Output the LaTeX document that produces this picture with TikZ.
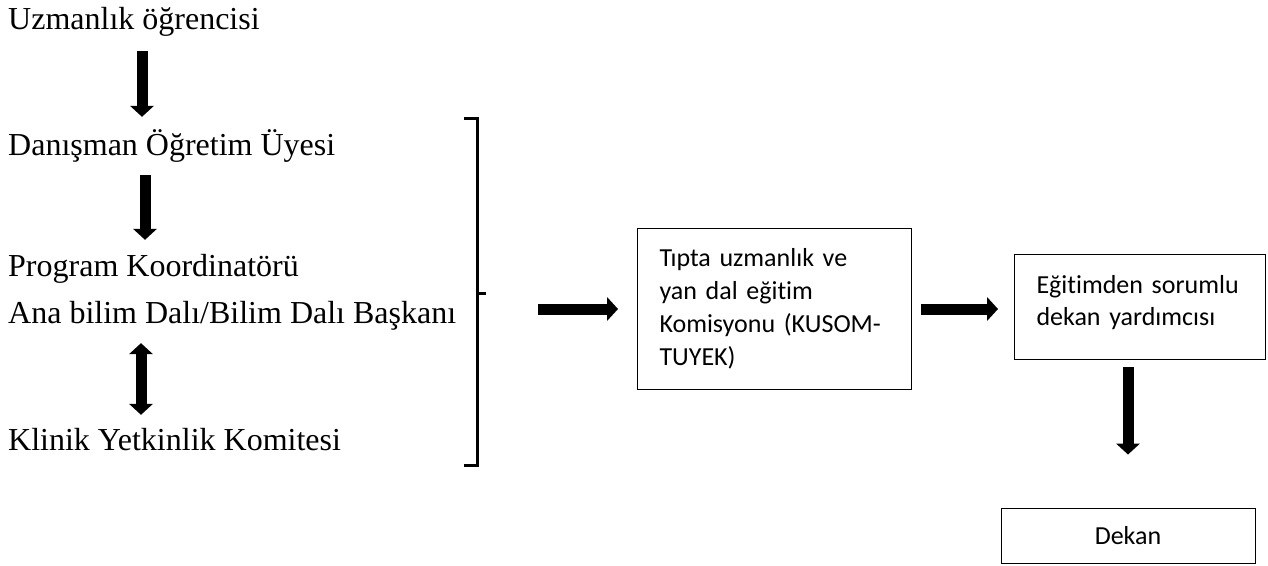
\documentclass[tikz,border=0pt]{standalone}
\usepackage{fontspec}
\setmainfont{Liberation Serif}
\newfontfamily\boxfont[Ligatures=NoCommon]{Carlito}
\usetikzlibrary{arrows.meta}

\tikzset{
    lefttext/.style={anchor=base west,inner sep=0pt,text height=22pt,text depth=7pt,font=\fontsize{32}{38}\selectfont},
    box/.style={draw,line width=1pt,anchor=north west,inner xsep=22pt,inner ysep=0pt,align=left,font=\boxfont\fontsize{26}{33}\selectfont},
    blockarrow/.style={line width=11pt,-{Triangle[width=24pt,length=11pt,line width=0pt]}},
    blockboth/.style={line width=11pt,{Triangle[width=24pt,length=11pt,line width=0pt]}-{Triangle[width=24pt,length=11pt,line width=0pt]}}
}

\begin{document}
\begin{tikzpicture}[x=1pt,y=-1pt]
    \useasboundingbox (0,0) rectangle (1268,565);
    \node[lefttext] (uzman) at (8,29) {Uzmanlık öğrencisi};
    \node[lefttext] (danisman) at (8,155) {Danışman Öğretim Üyesi};
    \node[lefttext] (koord) at (8,276) {Program Koordinatörü};
    \node[lefttext] (baskan) at (8,323) {Ana bilim Dalı/Bilim Dalı Başkanı};
    \node[lefttext] (komite) at (8,450) {Klinik Yetkinlik Komitesi};
    \draw[blockarrow,shorten <=15pt,shorten >=16pt] (uzman.south -| 142,0) -- (danisman.north -| 142,0);
    \draw[blockarrow,shorten <=13pt,shorten >=14pt] (danisman.south -| 145,0) -- (koord.north -| 145,0);
    \draw[blockboth,shorten <=13pt,shorten >=13pt] (baskan.south -| 141,0) -- (komite.north -| 141,0);
    \draw[line width=3pt] (464,118) -- (477,118) -- (477,465) -- (464,465);
    \coordinate (brmid) at (477,293);
    \draw[line width=3pt] (brmid) -- ++(9,0);
    \node[box,text width=230pt,text height=38pt,text depth=123pt] (kusom) at (637,228)
        {Tıpta uzmanlık ve\\yan dal eğitim\\Komisyonu (KUSOM-\\TUYEK)};
    \node[box,text width=207pt,text height=39pt,text depth=66pt,font=\boxfont\fontsize{26}{32}\selectfont] (dekanyrd) at (1014,254)
        {Eğitimden sorumlu\\dekan yardımcısı};
    \node[draw,line width=1pt,minimum width=254pt,minimum height=55pt,inner sep=0pt,font=\boxfont\fontsize{26}{33}\selectfont] (dekan) at (1128,535.5) {Dekan};
    \draw[blockarrow,shorten >=19pt] (kusom.west -| 538,0) -- (kusom.west);
    \draw[blockarrow,shorten <=9pt,shorten >=16pt] (kusom.east) -- (kusom.east -| dekanyrd.west);
    \draw[blockarrow,shorten <=7pt,shorten >=53pt] (dekan.north |- dekanyrd.south) -- (dekan.north);
\end{tikzpicture}
\end{document}
